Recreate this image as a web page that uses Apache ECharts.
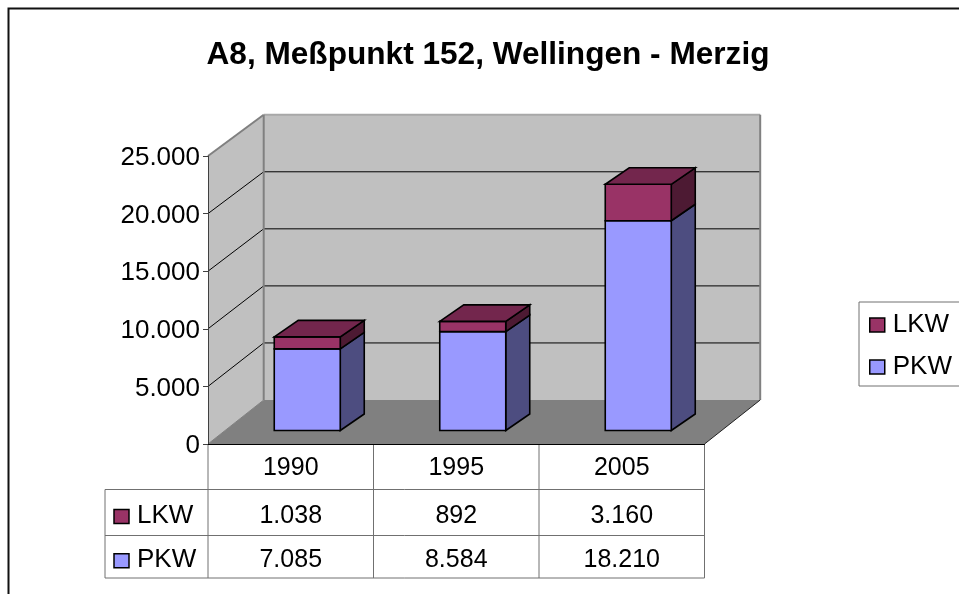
<!DOCTYPE html>
<html><head><meta charset="utf-8">
<style>html,body{margin:0;padding:0;background:#fff}#c{width:959px;height:594px}</style>
<script src="https://cdn.jsdelivr.net/npm/echarts@6/dist/echarts.min.js"></script>
</head><body><div id="c"></div>
<script>
const titleText = 'A8, Meßpunkt 152, Wellingen - Merzig';
const categories = ['1990', '1995', '2005'];
const pkw = [7085, 8584, 18210];
const lkw = [1038, 892, 3160];
const yTicks = [0, 5000, 10000, 15000, 20000, 25000];

const FONT = '"Liberation Sans", Arial, sans-serif';
const FS = 26;
const FS_TABLE = 25;
const C = {
  pkw: '#9999FF', pkwSide: '#4D4D80',
  lkw: '#993366', lkwSide: '#4D1A33', lkwTop: '#73264D',
  wall: '#C0C0C0', floor: '#808080', edge: '#808080', table: '#707070'
};
const WALL = { dx: 55.7, dy: -44, scale: 0.9905 };
const BAR = { frontDx: 16.5, frontDy: -13.5, dx: 24, dy: -16.5, width: 66 };
const fmt = v => String(v).replace(/\B(?=(\d{3})+(?!\d))/g, '.');
const chart = echarts.init(document.getElementById('c'), null, { renderer: 'canvas' });

function back(x, y, y0) {
  return [x + WALL.dx, y0 + WALL.dy + (y - y0) * WALL.scale];
}
function poly(points, fill, stroke, lw) {
  return { type: 'polygon', shape: { points }, style: { fill, stroke: stroke || 'none', lineWidth: lw || 1 } };
}
function line(points, stroke, lw) {
  return { type: 'polyline', shape: { points }, style: { fill: 'none', stroke, lineWidth: lw || 1 } };
}

function renderWalls(params, api) {
  const s = params.coordSys;
  const x0 = s.x, x1 = s.x + s.width, y0 = s.y + s.height;
  const yTop = api.coord([0, yTicks[yTicks.length - 1]])[1];
  const ch = [];
  const bl = back(x0, y0, y0), br = back(x1, y0, y0), tl = back(x0, yTop, y0), tr = back(x1, yTop, y0);
  ch.push(poly([[x0, y0], [x0, yTop], tl, bl], C.wall));
  ch.push(poly([tl, tr, br, bl], C.wall));
  ch.push(poly([[x0, y0], bl, br, [x1, y0]], C.floor));
  yTicks.slice(1, -1).forEach(t => {
    const y = api.coord([0, t])[1];
    const b = back(x0, y, y0), e = back(x1, y, y0);
    ch.push(line([[x0, y], b, e], '#000', 1));
  });
  ch.push(line([[x0, yTop], tl], C.edge, 2));
  ch.push(line([tl, tr], '#A8A8A8', 2));
  ch.push(line([tl, bl], C.edge, 2));
  ch.push(line([tr, br], C.edge, 2));
  ch.push(line([[x1, y0], br], '#222', 1));
  ch.push(line([[x0, y0], bl], C.edge, 1));
  return { type: 'group', children: ch };
}

function renderBar(base, values, face, side, top) {
  return function (params, api) {
    const i = api.value(0);
    const from = base ? base[i] : 0;
    const to = from + values[i];
    const c0 = api.coord([i, from]), c1 = api.coord([i, to]);
    const l = c0[0] - BAR.width / 2 + BAR.frontDx, r = l + BAR.width;
    const yb = c0[1] + BAR.frontDy, yt = c1[1] + BAR.frontDy;
    const d = [BAR.dx, BAR.dy];
    const ch = [
      poly([[r, yb], [r + d[0], yb + d[1]], [r + d[0], yt + d[1]], [r, yt]], side, '#000', 1.6),
      poly([[l, yb], [r, yb], [r, yt], [l, yt]], face, '#000', 1.6)
    ];
    if (top) ch.push(poly([[l, yt], [r, yt], [r + d[0], yt + d[1]], [l + d[0], yt + d[1]]], top, '#000', 1.6));
    return { type: 'group', children: ch };
  };
}

const T = { left: 105, rows: [489.5, 535.5, 578], keyX: 114, keySize: 15, labelX: 137, textShift: 4, keyShift: 5 };
function renderTable(params, api) {
  const s = params.coordSys;
  const x0 = s.x, x1 = s.x + s.width, y0 = s.y + s.height;
  const ch = [];
  const band = s.width / categories.length;
  for (let i = 0; i <= categories.length; i++) ch.push(line([[x0 + i * band, y0], [x0 + i * band, T.rows[2]]], C.table, 1));
  T.rows.forEach(y => ch.push(line([[T.left, y], [x1, y]], C.table, 1)));
  ch.push(line([[T.left, T.rows[0]], [T.left, T.rows[2]]], C.table, 1));
  [['LKW', lkw, C.lkw, 0], ['PKW', pkw, C.pkw, 1]].forEach(([name, vals, col, r]) => {
    const cy = (T.rows[r] + T.rows[r + 1]) / 2 - 0.5;
    ch.push({ type: 'rect', shape: { x: T.keyX, y: cy + T.keyShift - T.keySize / 2, width: T.keySize, height: T.keySize - 1 },
      style: { fill: col, stroke: '#000', lineWidth: 1.5 } });
    ch.push({ type: 'text', style: { text: name, x: T.labelX, y: cy + T.textShift, fontFamily: FONT, fontSize: FS, fill: '#000', verticalAlign: 'middle', align: 'left' } });
    vals.forEach((v, i) => {
      ch.push({ type: 'text', style: { text: fmt(v), x: api.coord([i, 0])[0], y: cy + T.textShift, fontFamily: FONT, fontSize: FS_TABLE, fill: '#000', verticalAlign: 'middle', align: 'center' } });
    });
  });
  return { type: 'group', children: ch };
}

const sumBase = pkw;
chart.setOption({
  animation: false,
  backgroundColor: '#fff',
  title: { text: titleText, left: 483, top: 34, textAlign: 'center',
    textStyle: { fontFamily: FONT, fontSize: 31.6, fontWeight: 'bold', color: '#000' } },
  legend: {
    left: 859, top: 302, orient: 'vertical', icon: 'rect',
    data: ['LKW', 'PKW'], itemWidth: 15, itemHeight: 14, itemGap: 14,
    padding: [9, 20, 5, 10], backgroundColor: '#fff', borderColor: C.table, borderWidth: 1, borderRadius: 0,
    itemStyle: { borderColor: '#000', borderWidth: 1.5 },
    textStyle: { fontFamily: FONT, fontSize: FS, color: '#000', lineHeight: 28, padding: [0, 0, 0, 3] }
  },
  grid: { left: 208, top: 156, width: 496.5, height: 288, containLabel: false },
  xAxis: {
    type: 'category', data: categories, z: 5,
    axisLine: { lineStyle: { color: '#000', width: 1 } },
    axisTick: { show: false },
    axisLabel: { fontFamily: FONT, fontSize: FS_TABLE, color: '#000', margin: 12 }
  },
  yAxis: {
    type: 'value', min: 0, max: 25000, interval: 5000, z: 5,
    axisLine: { show: true, lineStyle: { color: '#404040', width: 1 } },
    axisTick: { show: true, length: 5, lineStyle: { color: '#404040', width: 1 } },
    splitLine: { show: false },
    axisLabel: { fontFamily: FONT, fontSize: FS, color: '#000', margin: 8, formatter: v => '{t|' + fmt(v) + '}',
      rich: { t: { fontFamily: FONT, fontSize: FS, color: '#000', padding: [4, 0, 0, 0] } } }
  },
  graphic: [{ type: 'polyline', silent: true, z: 100,
    shape: { points: [[8.5, 594], [8.5, 8.5], [959, 8.5]] },
    style: { fill: 'none', stroke: '#111', lineWidth: 2 } }],
  series: [
    { type: 'custom', name: 'walls', z: 1, silent: true, data: [0], renderItem: renderWalls, encode: { x: 0, y: -1 }, clip: false },
    { type: 'custom', name: 'PKW', z: 2, data: pkw.map((v, i) => [i, v]), itemStyle: { color: C.pkw },
      renderItem: renderBar(null, pkw, C.pkw, C.pkwSide, null), encode: { x: 0, y: 1 } },
    { type: 'custom', name: 'LKW', z: 3, data: lkw.map((v, i) => [i, v]), itemStyle: { color: C.lkw },
      renderItem: renderBar(sumBase, lkw, C.lkw, C.lkwSide, C.lkwTop), encode: { x: 0, y: 1 } },
    { type: 'custom', name: 'table', z: 4, silent: true, data: [0], renderItem: renderTable, encode: { x: 0, y: -1 }, clip: false }
  ]
});
</script></body></html>
